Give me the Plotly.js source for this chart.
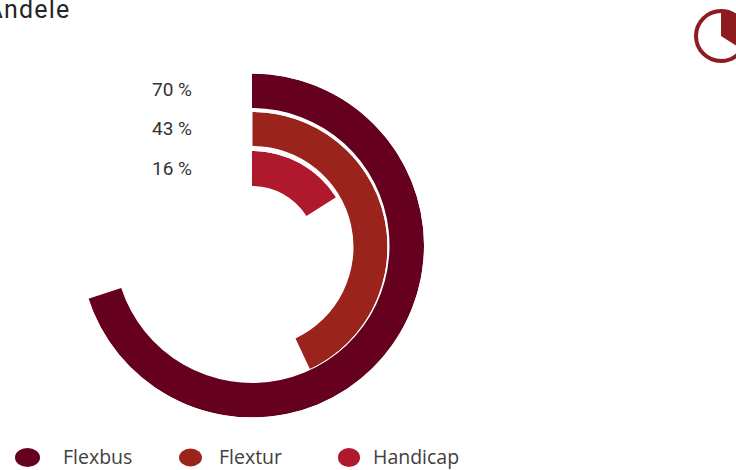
<!DOCTYPE html>
<html><head><meta charset="utf-8">
<script src="https://cdn.plot.ly/plotly-3.0.1.min.js"></script>
<style>html,body{margin:0;padding:0;background:#fff;overflow:hidden}#c{width:736px;height:470px}
.annotation[data-index="3"] text{letter-spacing:1.2px}
</style>
</head><body><div id="c"></div>
<script>
const categories = ["Handicap", "Flextur", "Flexbus"];
const values = [16, 43, 70];
const colors = ["#B0182D", "#9A231B", "#66001F"];
const labelTexts = ["16 %", "43 %", "70 %"];
const legendOrder = ["Flexbus", "Flextur", "Handicap"];
const legendColors = ["#66001F", "#9A231B", "#B0182D"];
const titleText = "Andele";
const iconShare = 34;

const W = 736, H = 470;
const px = x => x / W, py = y => 1 - y / H;
// each ring sits on its own slightly offset circle, as in the reference
const ringCx = [252, 252.5, 252];
const ringCy = [250.5, 247, 245.5];
const ringOuter = [99.5, 135, 172];
const ringInner = [64.5, 101, 137.5];
const subplots = ["polar", "polar2", "polar3"];

const traces = categories.map((c, i) => ({
  type: "barpolar",
  name: c,
  subplot: subplots[i],
  r: [ringOuter[i] - ringInner[i]],
  base: [ringInner[i]],
  theta: [values[i] * 3.6 / 2],
  width: [values[i] * 3.6],
  marker: {color: colors[i], line: {width: 0}},
  hoverinfo: "skip"
}));

const labelFont = {family: "Roboto, sans-serif", size: 19, color: "#333333"};
const annotations = [];
const labelY = [168, 128.5, 90];
labelTexts.forEach((t, i) => annotations.push({
  xref: "paper", yref: "paper", x: px(194), y: py(labelY[i]),
  xanchor: "right", yanchor: "middle", text: t, showarrow: false, font: labelFont
}));
annotations.push({
  xref: "paper", yref: "paper", x: px(69), y: py(9.5),
  xanchor: "right", yanchor: "middle", text: titleText, showarrow: false,
  font: {family: "Roboto, sans-serif", size: 25, color: "#262626"}
});

const shapes = [];
const swatches = [[15, 40, 19], [179, 202, 18], [338, 360, 19]];
const legendTextX = [61, 217, 371];
legendOrder.forEach((n, i) => {
  const s = swatches[i], yc = 457.5;
  shapes.push({type: "circle", xref: "paper", yref: "paper",
    x0: px(s[0]), x1: px(s[1]), y0: py(yc + s[2] / 2), y1: py(yc - s[2] / 2),
    fillcolor: legendColors[i], line: {width: 0}});
  annotations.push({xref: "paper", yref: "paper", x: px(legendTextX[i]), y: py(456.5),
    xanchor: "left", yanchor: "middle", text: n, showarrow: false,
    font: {family: "'Open Sans', sans-serif", size: 19.5, color: "#404040"}});
});

// clock icon, top right (partly off the page)
const ix = 721, iy = 36, ir = 25;
shapes.push({type: "circle", xref: "paper", yref: "paper",
  x0: px(ix - ir), x1: px(ix + ir), y0: py(iy + ir), y1: py(iy - ir),
  fillcolor: "#ffffff", line: {color: "#8E1B1F", width: 4}});
let sector = `M ${px(ix)} ${py(iy)}`;
for (let k = 0; k <= 40; k++) {
  const a = iconShare * 3.6 * Math.PI / 180 * k / 40;
  sector += ` L ${px(ix + ir * Math.sin(a))} ${py(iy - ir * Math.cos(a))}`;
}
shapes.push({type: "path", xref: "paper", yref: "paper", path: sector + " Z",
  fillcolor: "#8E1B1F", line: {width: 0}});

const layout = {
  width: W, height: H,
  margin: {l: 0, r: 0, t: 0, b: 0},
  paper_bgcolor: "#ffffff",
  showlegend: false,
  annotations, shapes
};
subplots.forEach((s, i) => {
  const R = ringOuter[i];
  layout[s] = {
    domain: {x: [px(ringCx[i] - R), px(ringCx[i] + R)], y: [py(ringCy[i] + R), py(ringCy[i] - R)]},
    bgcolor: "rgba(0,0,0,0)",
    radialaxis: {visible: false, range: [0, R]},
    angularaxis: {visible: false, direction: "clockwise", rotation: 90, thetaunit: "degrees"}
  };
});
Plotly.newPlot("c", traces, layout, {staticPlot: true, displayModeBar: false});
</script></body></html>
